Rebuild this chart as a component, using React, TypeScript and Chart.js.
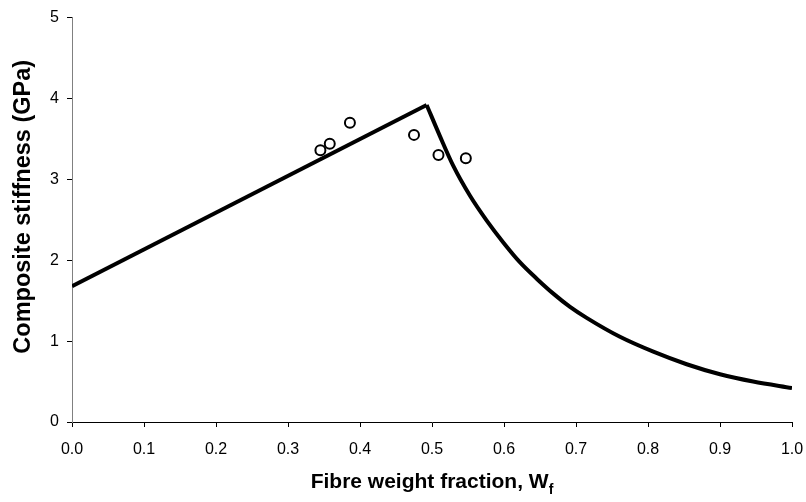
import React, { useEffect, useRef } from 'react';
import { Chart, registerables } from 'chart.js';

Chart.register(...registerables);

// Model line: linear rise to the peak
const risingX = [0.0, 0.4926];
const risingY = [1.68, 3.92];

// Model line: decreasing curve after the peak
const curveX = [0.4926, 0.511, 0.5296, 0.5528, 0.576, 0.599, 0.622, 0.6454, 0.6685, 0.6917, 0.7148, 0.761, 0.8074, 0.8537, 0.9, 0.946, 1.0];
const curveY = [3.92, 3.535, 3.166, 2.797, 2.49, 2.22, 1.976, 1.772, 1.587, 1.423, 1.287, 1.053, 0.869, 0.714, 0.59, 0.5, 0.42];

// Measured points
const measuredX = [0.345, 0.358, 0.386, 0.475, 0.509, 0.547];
const measuredY = [3.36, 3.44, 3.7, 3.55, 3.3, 3.26];

const xTitle = 'Fibre weight fraction, W';
const xTitleSub = 'f';
const yTitle = 'Composite stiffness (GPa)';

const FONT = '"Liberation Sans", Arial, Helvetica, sans-serif';

const titlePlugin = {
  id: 'axisTitles',
  afterDraw(chart: any) {
    const ctx = chart.ctx as CanvasRenderingContext2D;
    const a = chart.chartArea;
    ctx.save();
    ctx.fillStyle = '#000';
    const mainFont = `bold 21px ${FONT}`;
    const subFont = `bold 14px ${FONT}`;
    ctx.font = mainFont;
    const mw = ctx.measureText(xTitle).width;
    ctx.font = subFont;
    const sw = ctx.measureText(xTitleSub).width;
    const cx = (a.left + a.right) / 2;
    const startX = cx - (mw + sw) / 2;
    const baseY = a.bottom + 66;
    ctx.textAlign = 'left';
    ctx.textBaseline = 'alphabetic';
    ctx.font = mainFont;
    ctx.fillText(xTitle, startX, baseY);
    ctx.font = subFont;
    ctx.fillText(xTitleSub, startX + mw, baseY + 6);

    ctx.translate(a.left - 48, (a.top + a.bottom) / 2 - 13);
    ctx.rotate(-Math.PI / 2);
    ctx.textAlign = 'center';
    ctx.textBaseline = 'middle';
    ctx.font = `bold 23.5px ${FONT}`;
    ctx.fillText(yTitle, 0, 0);
    ctx.restore();
  },
};

export default function App() {
  const ref = useRef<HTMLCanvasElement>(null);
  useEffect(() => {
    if (!ref.current) return;
    const chart = new Chart(ref.current, {
      type: 'scatter',
      data: {
        datasets: [
          {
            data: measuredX.map((x, i) => ({ x, y: measuredY[i] })),
            showLine: false,
            pointRadius: 5,
            pointBorderWidth: 2,
            pointBorderColor: '#000',
            pointBackgroundColor: '#fff',
            order: 0,
          },
          {
            data: risingX.map((x, i) => ({ x, y: risingY[i] })),
            showLine: true,
            borderColor: '#000',
            borderWidth: 4,
            pointRadius: 0,
            tension: 0,
            order: 1,
          },
          {
            data: curveX.map((x, i) => ({ x, y: curveY[i] })),
            showLine: true,
            borderColor: '#000',
            borderWidth: 4,
            pointRadius: 0,
            cubicInterpolationMode: 'monotone',
            order: 1,
          },
        ],
      },
      options: {
        responsive: false,
        animation: false,
        layout: { padding: { top: 16, right: 14, left: 0, bottom: 0 } },
        plugins: { legend: { display: false }, tooltip: { enabled: false } },
        scales: {
          x: {
            type: 'linear',
            min: 0,
            max: 1,
            afterFit: (s: any) => { s.height = 80; s.paddingRight = 0; s.paddingLeft = 0; },
            border: { display: true, color: '#000', width: 1 },
            grid: { display: true, drawOnChartArea: false, drawTicks: true, tickLength: 5, color: '#000' },
            ticks: {
              stepSize: 0.1,
              padding: 13,
              color: '#000',
              font: { family: FONT, size: 16 },
              callback: (v: any) => Number(v).toFixed(1),
              maxRotation: 0,
            },
          },
          y: {
            type: 'linear',
            min: 0,
            max: 5,
            afterFit: (s: any) => { s.width = 72; },
            border: { display: true, color: '#808080', width: 1 },
            grid: { display: true, drawOnChartArea: false, drawTicks: true, tickLength: 5, color: '#000' },
            ticks: {
              stepSize: 1,
              padding: 8,
              color: '#000',
              font: { family: FONT, size: 16 },
            },
          },
        },
      },
      plugins: [titlePlugin],
    });
    return () => chart.destroy();
  }, []);
  return (
    <canvas
      ref={ref}
      width={806}
      height={502}
      style={{ position: 'absolute', left: 0, top: 0, display: 'block' }}
    />
  );
}
